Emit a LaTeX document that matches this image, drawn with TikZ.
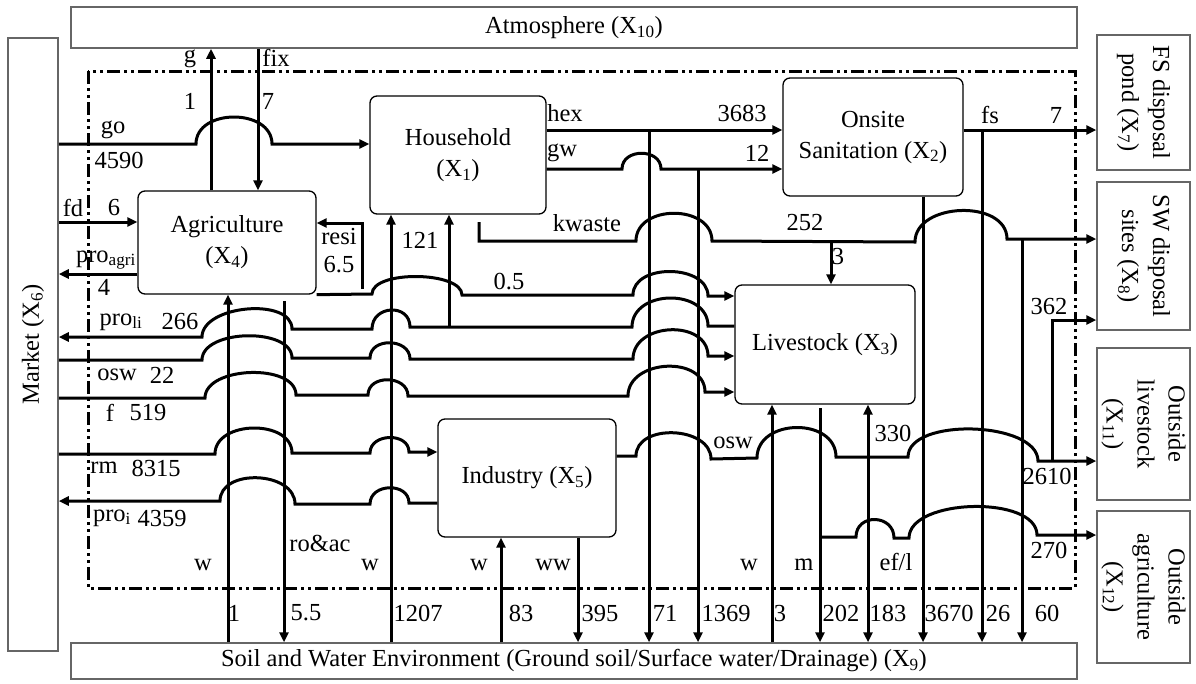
\documentclass[tikz,border=0pt]{standalone}
\usepackage{fontspec}
\setmainfont{Liberation Serif}
\usetikzlibrary{arrows.meta,calc}
\begin{document}
\begin{tikzpicture}[x=1pt,y=-1pt,
  every node/.style={font=\fontsize{24.5}{31}\selectfont, inner sep=0pt},
  proc/.style={draw, line width=1.3pt, rounded corners=7pt, align=center},
  ext/.style={draw=black!60, line width=1.5pt},
  flow/.style={line width=3pt},
  arr/.style={flow, -{Triangle[length=10pt,width=9pt]}},
  bridge/.style={to path={.. controls ($(\tikztostart)+(0,-#1)$) and ($(\tikztotarget)+(0,-#1)$) .. (\tikztotarget)}},
  border/.style={line width=3pt, dash pattern=on 13pt off 4pt on 3pt off 4pt on 3pt off 4pt}
]
\useasboundingbox (0,0) rectangle (1196,683);

% external boxes
\node[ext, minimum width=1006pt, minimum height=41pt] (atm) at (574,27.5) {Atmosphere (X\textsubscript{10})};
\node[ext, minimum width=1006pt, minimum height=36pt] (soil) at (574,661) {Soil and Water Environment (Ground soil/Surface water/Drainage) (X\textsubscript{9})};
\node[ext, minimum width=50pt, minimum height=613pt] (market) at (33,344.5) {};
\node[rotate=90] (markett) at (market) {Market (X\textsubscript{6})};
\node[ext, minimum width=93pt, minimum height=135pt] (x7) at (1143.5,102.5) {};
\node[rotate=-90, align=center] (x7t) at (x7) {FS disposal\\pond (X\textsubscript{7})};
\node[ext, minimum width=93pt, minimum height=148pt] (x8) at (1143.5,256) {};
\node[rotate=-90, align=center] (x8t) at (x8) {SW disposal\\sites (X\textsubscript{8})};
\node[ext, minimum width=93pt, minimum height=152pt] (x11) at (1143.5,424) {};
\node[rotate=-90, align=center] (x11t) at (x11) {Outside\\livestock\\(X\textsubscript{11})};
\node[ext, minimum width=93pt, minimum height=152pt] (x12) at (1143.5,587) {};
\node[rotate=-90, align=center] (x12t) at (x12) {Outside\\agriculture\\(X\textsubscript{12})};

% system boundary
\draw[border] (88,71) rectangle (1075,588);

% process boxes
\node[proc, minimum width=178pt, minimum height=103pt] (agri) at (227,242.5) {Agriculture\\(X\textsubscript{4})};
\node[proc, minimum width=176pt, minimum height=118pt] (hh) at (458,155) {Household\\(X\textsubscript{1})};
\node[proc, minimum width=180pt, minimum height=118pt] (onsite) at (873,137) {Onsite\\Sanitation (X\textsubscript{2})};
\node[proc, minimum width=180pt, minimum height=119pt] (live) at (825,344.5) {Livestock (X\textsubscript{3})};
\node[proc, minimum width=178pt, minimum height=118pt] (ind) at (527,478) {Industry (X\textsubscript{5})};

% x positions of vertical flows
\coordinate (vg) at (211,0);
\coordinate (vfix) at (258,0);
\coordinate (v1) at (228,0);
\coordinate (vro) at (284,0);
\coordinate (v1207) at (391,0);
\coordinate (v121) at (449,0);
\coordinate (v83) at (501,0);
\coordinate (v395) at (578,0);
\coordinate (v71) at (649,0);
\coordinate (v1369) at (698,0);
\coordinate (v3w) at (772,0);
\coordinate (vm) at (820,0);
\coordinate (v330) at (868,0);
\coordinate (v3670) at (923,0);
\coordinate (v26) at (982,0);
\coordinate (v60) at (1022,0);
\coordinate (v3k) at (831,0);
% y levels of horizontal flows
\coordinate (ygo) at (0,144);
\coordinate (yfd) at (0,222);
\coordinate (ypa) at (0,274);
\coordinate (y05) at (0,296);
\coordinate (yli) at (0,326);
\coordinate (ylo) at (0,337);
\coordinate (y22a) at (0,360);
\coordinate (y22b) at (0,356);
\coordinate (yf) at (0,398);
\coordinate (yf2) at (0,392);
\coordinate (yrm) at (0,454);
\coordinate (yrm2) at (0,452);
\coordinate (ypi) at (0,503);
\coordinate (ypi2) at (0,501);
\coordinate (yhex) at (0,130);
\coordinate (ygw) at (0,169);
\coordinate (yfs) at (0,130);
\coordinate (ykw) at (0,239);
\coordinate (yos) at (0,456);
\coordinate (yos2) at (0,461);
\coordinate (yef) at (0,535);
% junctions
\coordinate (j121) at (449,327);
\coordinate (j71) at (649,130);
\coordinate (j1369) at (698,169);
\coordinate (jm) at (820,408);
\coordinate (j330) at (868,457);
\coordinate (j26) at (982,130);
\coordinate (j60) at (1022,239);
\coordinate (j3k) at (831,242);
\coordinate (j362) at (1052,461);
\coordinate (c362) at (1052,320);
\coordinate (jro) at (284,301);
\coordinate (rs0) at (362,289);
\coordinate (rs1) at (362,223);
\coordinate (kw0) at (479,222);
\coordinate (kw1) at (479,241);
\coordinate (jef) at (820,537);

% vertical flows
\draw[arr] (agri.north -| vg) -- (atm.south -| vg);
\draw[arr] (atm.south -| vfix) -- (agri.north -| vfix);
\draw[arr] (soil.north -| v1) -- (agri.south -| v1);
\draw[arr] (jro) -- (soil.north -| vro);
\draw[arr] (soil.north -| v1207) -- (hh.south -| v1207);
\draw[arr] (j121) -- (hh.south -| v121);
\draw[arr] (soil.north -| v83) -- (ind.south -| v83);
\draw[arr] (ind.south -| v395) -- (soil.north -| v395);
\draw[arr] (j71) -- (soil.north -| v71);
\draw[arr] (j1369) -- (soil.north -| v1369);
\draw[arr] (soil.north -| v3w) -- (live.south -| v3w);
\draw[arr] (jm) -- (soil.north -| vm);
\draw[arr] (j330) -- (live.south -| v330);
\draw[arr] (j330) -- (soil.north -| v330);
\draw[arr] (onsite.south -| v3670) -- (soil.north -| v3670);
\draw[arr] (j26) -- (soil.north -| v26);
\draw[arr] (j60) -- (soil.north -| v60);
\draw[arr] (j362) -- (c362) -- (c362 -| x8.west);
\draw[arr] (j3k) -- (live.north -| v3k);
\draw[arr] (rs0) -- (rs1) -- (rs1 -| agri.east);

% horizontal flows
\draw[arr] (market.east |- ygo) -- (196,144) to[bridge=36] (272,144) -- (hh.west |- ygo);
\draw[arr] (market.east |- yfd) -- (agri.west |- yfd);
\draw[arr] (agri.west |- ypa) -- (market.east |- ypa);
\draw[arr] (agri.south east) -- (372,294) to[bridge=24] (462,295) -- (633,295) to[bridge=32] (708,296) -- (live.west |- y05);
\draw[arr] (live.west |- yli) -- (708,326) to[bridge=38] (632,327) -- (410,327) to[bridge=24] (372,329) -- (292,329) to[bridge=32] (202,337) -- (market.east |- ylo);
\draw[arr] (market.east |- y22a) -- (202,360) to[bridge=31] (292,358) -- (370,358) to[bridge=21] (410,359) -- (633,359) to[bridge=37] (708,356) -- (live.west |- y22b);
\draw[arr] (market.east |- yf) -- (205,398) to[bridge=32] (296,395) -- (368,395) to[bridge=21] (408,396) -- (628,396) to[bridge=37] (705,392) -- (live.west |- yf2);
\draw[arr] (market.east |- yrm) -- (215,454) to[bridge=34] (292,453) -- (370,453) to[bridge=20] (409,452) -- (ind.west |- yrm2);
\draw[arr] (ind.west |- ypi) -- (409,503) to[bridge=21] (370,504) -- (295,504) to[bridge=33] (220,501) -- (market.east |- ypi2);
\draw[arr] (hh.east |- yhex) -- (onsite.west |- yhex);
\draw[arr] (hh.east |- ygw) -- (622,169) to[bridge=21] (661,169) -- (onsite.west |- ygw);
\draw[arr] (onsite.east |- yfs) -- (x7.west |- yfs);
\draw[arr] (kw0) -- (kw1) -- (636,241) to[bridge=37] (712,241) -- (915,242) to[bridge=40] (1007,239) -- (x8.west |- ykw);
\draw[arr] (ind.east |- yos) -- (636,456) to[bridge=33] (711,459) -- (757,458) to[bridge=40] (836,457) -- (908,457) to[bridge=40] (1038,461) -- (x11.west |- yos2);
\draw[arr] (jef) -- (856,537) to[bridge=24] (894,538) -- (909,538) to[bridge=40] (1037,535) -- (x12.west |- yef);

% labels
\node (lg) at (190,59) {g};
\node (lfix) at (276,58) {fix};
\node (lg1) at (190,101) {1};
\node (lfix7) at (268,101) {7};
\node (lgo) at (113,130) {go};
\node (lgon) at (119,160) {4590};
\node (lfd) at (73,208) {fd};
\node (lfdn) at (114,208) {6};
\node (lpa) at (106,260) {pro\textsubscript{agri}};
\node (lpan) at (104,287) {4};
\node (lresi) at (339,237) {resi};
\node (lresin) at (339,265) {6.5};
\node (l121) at (420,240) {121};
\node (l05) at (509,282) {0.5};
\node (lpli) at (121,322) {pro\textsubscript{li}};
\node (lplin) at (180,322) {266};
\node (losw) at (117,375) {osw};
\node (loswn) at (162,375) {22};
\node (lf) at (110,413) {f};
\node (lfn) at (148,413) {519};
\node (lrm) at (104,468) {rm};
\node (lrmn) at (156,468) {8315};
\node (lpi) at (112,518) {pro\textsubscript{i}};
\node (lpin) at (162,518) {4359};
\node (lhex) at (565,113) {hex};
\node (lhexn) at (742,113) {3683};
\node (lgw) at (562,153) {gw};
\node (lgwn) at (757,153) {12};
\node (lkw) at (587,223) {kwaste};
\node (lkwn) at (805,223) {252};
\node (l3k) at (838,257) {3};
\node (lfs) at (990,115) {fs};
\node (lfsn) at (1056,115) {7};
\node (losw2) at (733,443) {osw};
\node (l330) at (893,433) {330};
\node (l362) at (1049,307) {362};
\node (l2610) at (1047,476) {2610};
\node (l270) at (1049,550) {270};
\node (lef) at (896,562) {ef/l};
\node (lw1) at (203,565) {w};
\node (lro) at (320,543) {ro\&ac};
\node (lw2) at (370,565) {w};
\node (lw3) at (479,565) {w};
\node (lww) at (553,565) {ww};
\node (lw4) at (749,565) {w};
\node (lm) at (804,565) {m};
\node (b1) at (234,613) {1};
\node (b2) at (306,613) {5.5};
\node (b3) at (418,613) {1207};
\node (b4) at (521,613) {83};
\node (b5) at (600,613) {395};
\node (b6) at (665,613) {71};
\node (b7) at (726,613) {1369};
\node (b8) at (780,613) {3};
\node (b9) at (841,613) {202};
\node (b10) at (888,613) {183};
\node (b11) at (949,613) {3670};
\node (b12) at (998,613) {26};
\node (b13) at (1047,613) {60};
\end{tikzpicture}
\end{document}
